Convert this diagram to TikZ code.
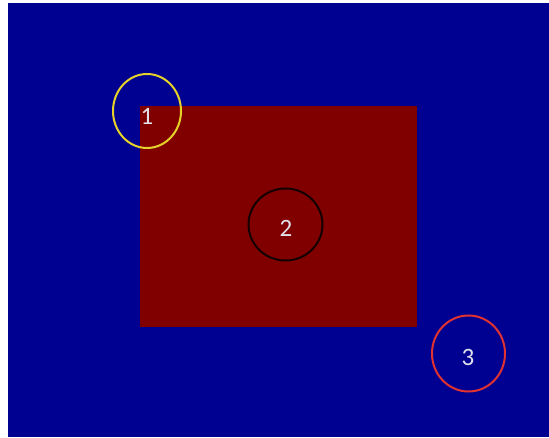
\documentclass[tikz,border=0pt]{standalone}
\usepackage{fontspec}
\setmainfont{Carlito}
\definecolor{bgblue}{RGB}{0,0,145}
\definecolor{boxred}{RGB}{128,0,0}
\definecolor{ringyellow}{RGB}{230,210,40}
\definecolor{ringred}{RGB}{225,50,50}
\definecolor{ringblack}{RGB}{20,0,0}
\definecolor{labelgrey}{RGB}{225,225,235}
\begin{document}
\begin{tikzpicture}[x=1pt,y=-1pt,
  ring/.style={draw,line width=2pt},
  lbl/.style={text=labelgrey,font=\fontsize{25}{28}\selectfont,inner sep=0pt}]
\useasboundingbox (0,0) rectangle (549,438);
\fill[white] (0,0) rectangle (549,438);
\fill[bgblue] (8,3) rectangle (549,437);
\node[fill=boxred,minimum width=277pt,minimum height=221pt,inner sep=0pt,anchor=north west] (box) at (140,106) {};
\draw[ring,ringyellow] (147,111) ellipse [x radius=34,y radius=37];
\node[lbl] (l1) at (147,116) {1};
\draw[ring,ringblack] (285.5,224.5) ellipse [x radius=37,y radius=36];
\node[lbl] (l2) at (286,228) {2};
\draw[ring,ringred] (468.5,353.5) ellipse [x radius=36.5,y radius=38];
\node[lbl] (l3) at (468,357) {3};
\end{tikzpicture}
\end{document}
